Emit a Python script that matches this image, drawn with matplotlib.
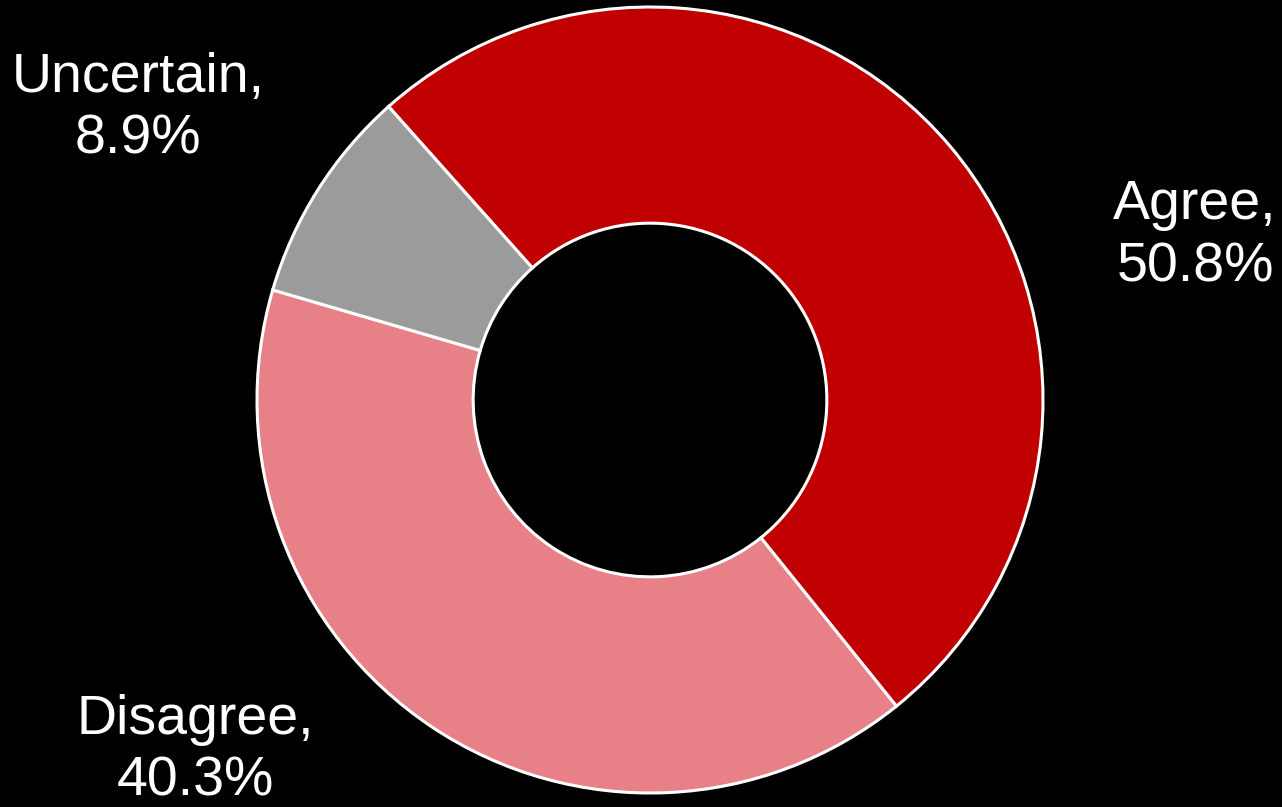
import matplotlib
matplotlib.use('Agg')
import matplotlib.pyplot as plt

categories = ['Agree', 'Disagree', 'Uncertain']
shares = [50.8, 40.3, 8.9]
colors = ['#C00000', '#E88088', '#9B9B9B']

# label anchor points in figure pixels (x, y from bottom)
label_pos = [(1195, 571), (195, 56), (138, 698)]

fig = plt.figure(figsize=(12.82, 8.07), dpi=100, facecolor='black')
ax = fig.add_axes([0, 0, 1, 1])
ax.set_facecolor('black')

ax.pie(shares, colors=colors, startangle=131.7, counterclock=False,
       center=(650, 407), radius=393, frame=True,
       wedgeprops=dict(width=393 * 0.55, edgecolor='white', linewidth=2.2))
ax.set_xlim(0, 1282)
ax.set_ylim(0, 807)
ax.set_aspect('equal')
ax.axis('off')

for cat, val, (x, y) in zip(categories, shares, label_pos):
    ax.text(x, y, f'{cat},\n{val:.1f}%', color='white', fontsize=40,
            family='Liberation Sans', fontweight='medium', ha='center',
            va='center', linespacing=1.25)

fig.savefig('out.png', dpi=100, facecolor='black')
